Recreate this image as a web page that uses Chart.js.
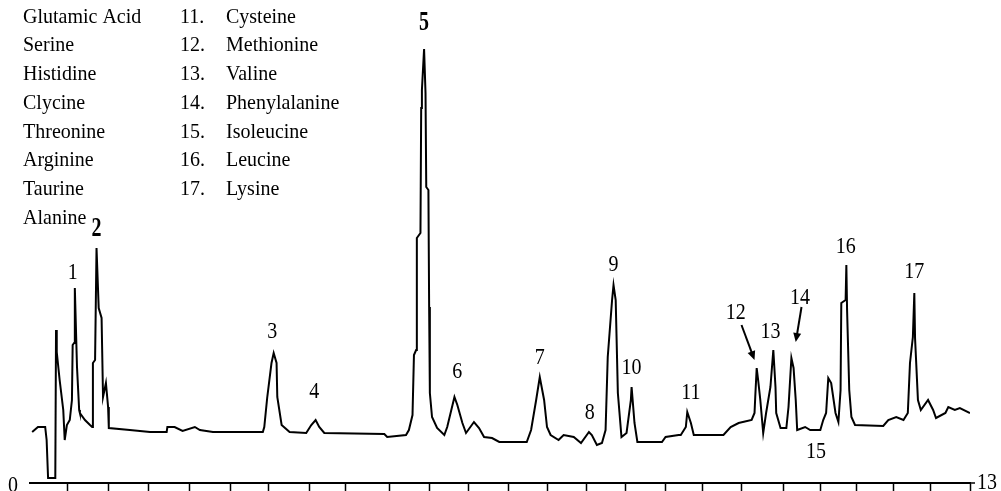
<!DOCTYPE html>
<html>
<head>
<meta charset="utf-8">
<script src="https://cdn.jsdelivr.net/npm/chart.js@4"></script>
<style>
  html, body { margin: 0; padding: 0; background: #fff; }
  #wrap { width: 1001px; height: 491px; }
</style>
</head>
<body>
<div id="wrap"><canvas id="chromChart"></canvas></div>
<script>
// retention time (min) and detector response
const times = [0.03, 0.11, 0.21, 0.23, 0.25, 0.35, 0.36, 0.37, 0.41, 0.46, 0.48, 0.51, 0.55, 0.58, 0.59, 0.61, 0.62,
  0.65, 0.68, 0.69, 0.76, 0.83, 0.86, 0.87, 0.90, 0.92, 0.95, 0.99, 1.01, 1.05, 1.08, 1.09, 1.38, 1.66, 1.89, 1.90,
  2.00, 2.11, 2.28, 2.35, 2.53, 3.22, 3.24, 3.28, 3.34, 3.37, 3.41, 3.42, 3.48, 3.59, 3.82, 3.89, 3.95, 4.00, 4.07,
  4.90, 4.94, 5.20, 5.24, 5.29, 5.31, 5.34, 5.35, 5.40, 5.41, 5.42, 5.45, 5.47, 5.48, 5.51, 5.52, 5.53, 5.56, 5.63,
  5.73, 5.77, 5.87, 5.91, 5.98, 6.03, 6.14, 6.21, 6.28, 6.39, 6.49, 6.87, 6.93, 7.00, 7.05, 7.11, 7.15, 7.20, 7.31,
  7.38, 7.52, 7.62, 7.73, 7.77, 7.84, 7.91, 7.96, 7.99, 8.05, 8.07, 8.10, 8.13, 8.18, 8.25, 8.31, 8.32, 8.36, 8.40,
  8.74, 8.79, 8.97, 9.00, 9.07, 9.09, 9.14, 9.18, 9.59, 9.69, 9.80, 9.98, 10.02, 10.03, 10.05, 10.07, 10.10, 10.14,
  10.18, 10.24, 10.28, 10.31, 10.32, 10.38, 10.46, 10.49, 10.53, 10.56, 10.59, 10.61, 10.72, 10.79, 10.93, 10.97,
  11.01, 11.04, 11.08, 11.14, 11.18, 11.21, 11.22, 11.28, 11.29, 11.30, 11.33, 11.36, 11.41, 11.80, 11.87, 11.98,
  12.08, 12.14, 12.17, 12.21, 12.23, 12.24, 12.28, 12.32, 12.42, 12.49, 12.53, 12.66, 12.70, 12.79, 12.86, 13.00];
const signal = [51, 56, 56, 43, 5, 5, 153, 131, 103, 73, 43, 58, 63, 83, 138, 140, 195,
  116, 73, 70, 63, 58, 56, 120, 123, 235, 175, 165, 86, 100, 76, 55, 53, 51, 51, 56,
  56, 52, 56, 53, 51, 51, 56, 85, 120, 130, 120, 86, 58, 51, 50, 58, 63, 56, 50,
  49, 46, 48, 53, 68, 128, 133, 245, 250, 375, 393, 434, 390, 296, 293, 176, 90, 66, 55,
  48, 56, 86, 78, 60, 50, 61, 55, 46, 45, 41, 41, 53, 83, 106, 83, 56, 48, 43,
  48, 46, 40, 51, 48, 38, 40, 53, 126, 183, 198, 183, 90, 46, 50, 83, 96, 60, 41,
  41, 46, 48, 48, 56, 71, 60, 48, 48, 56, 60, 63, 70, 86, 115, 103, 83, 50,
  70, 96, 133, 96, 70, 55, 55, 76, 125, 115, 83, 53, 56, 53, 53, 63,
  70, 105, 100, 70, 61, 93, 180, 183, 218, 173, 93, 66, 58, 57, 63, 66,
  63, 70, 120, 146, 190, 145, 83, 73, 83, 73, 65, 70, 76, 73, 75, 70];

// unlabeled tick marks on the time axis (min)
const tickMinutes = [0.52, 1.09, 1.64, 2.21, 2.77, 3.30, 3.86, 4.37, 4.97, 5.53, 6.06, 6.62,
  7.16, 7.70, 8.23, 8.79, 9.30, 9.84, 10.42, 10.93, 11.43, 11.94, 12.46, 13.00];
const axisLabels = ['0', '13'];

// peak numbers and where their labels sit (time, response)
const peakNumbers = ['1', '2', '3', '4', '5', '6', '7', '8', '9', '10', '11', '12', '13', '14', '15', '16', '17'];
const peakLabelTime = [0.59, 0.92, 3.35, 3.93, 5.45, 5.91, 7.05, 7.74, 8.07, 8.32, 9.14, 9.76, 10.24, 10.65, 10.87, 11.28, 12.23];
const peakLabelResp = [210, 254, 151, 91, 460, 111, 125, 70, 218, 115, 90, 170, 151, 185, 31, 236, 211];
const boldPeaks = ['2', '5'];

// arrows for peaks 12 and 14: [fromTime, fromResp, toTime, toResp]
const arrows = [[9.84, 158, 10.02, 123], [10.67, 176, 10.59, 141]];

// peak identification list
const namesLeft = ['Glutamic Acid', 'Serine', 'Histidine', 'Clycine', 'Threonine', 'Arginine', 'Taurine', 'Alanine'];
const numbersRight = ['11.', '12.', '13.', '14.', '15.', '16.', '17.'];
const namesRight = ['Cysteine', 'Methionine', 'Valine', 'Phenylalanine', 'Isoleucine', 'Leucine', 'Lysine'];

const serif = '"Liberation Serif", "Times New Roman", serif';

function stretchedText(ctx, str, x, y, size, bold, sy, align) {
    ctx.save();
    ctx.font = (bold ? 'bold ' : '') + size + 'px ' + serif;
    ctx.textAlign = align || 'center';
    ctx.textBaseline = 'middle';
    ctx.translate(x, y);
    ctx.scale(1, sy);
    ctx.fillText(str, 0, 0);
    ctx.restore();
}

const annotate = {
    id: 'annotate',
    afterDraw(chart) {
        const ctx = chart.ctx;
        const xs = chart.scales.x, ys = chart.scales.y;
        ctx.save();
        ctx.fillStyle = '#000';
        ctx.strokeStyle = '#000';

        // peak numbers
        peakNumbers.forEach((n, i) => {
            const px = xs.getPixelForValue(peakLabelTime[i]);
            const py = ys.getPixelForValue(peakLabelResp[i]);
            const bold = boldPeaks.includes(n);
            stretchedText(ctx, n, px, py, 20, bold, bold ? 1.35 : 1.12);
        });

        // arrows
        arrows.forEach(a => {
            const x1 = xs.getPixelForValue(a[0]), y1 = ys.getPixelForValue(a[1]);
            const x2 = xs.getPixelForValue(a[2]), y2 = ys.getPixelForValue(a[3]);
            const ang = Math.atan2(y2 - y1, x2 - x1);
            ctx.lineWidth = 2;
            ctx.beginPath();
            ctx.moveTo(x1, y1);
            ctx.lineTo(x2 - 5 * Math.cos(ang), y2 - 5 * Math.sin(ang));
            ctx.stroke();
            ctx.beginPath();
            ctx.moveTo(x2, y2);
            ctx.lineTo(x2 - 9 * Math.cos(ang) + 4 * Math.sin(ang), y2 - 9 * Math.sin(ang) - 4 * Math.cos(ang));
            ctx.lineTo(x2 - 9 * Math.cos(ang) - 4 * Math.sin(ang), y2 - 9 * Math.sin(ang) + 4 * Math.cos(ang));
            ctx.closePath();
            ctx.fill();
        });

        // axis end labels
        const yAxis = chart.chartArea.bottom;
        stretchedText(ctx, axisLabels[0], xs.getPixelForValue(0) - 17, yAxis + 3, 20, false, 1.12);
        stretchedText(ctx, axisLabels[1], xs.getPixelForValue(13) + 7, yAxis, 20, false, 1.2, 'left');
        // small stub past the last tick, as in the original
        ctx.lineWidth = 1.5;
        ctx.beginPath();
        ctx.moveTo(xs.getPixelForValue(13), yAxis);
        ctx.lineTo(xs.getPixelForValue(13) + 5, yAxis);
        ctx.stroke();

        // compound list
        namesLeft.forEach((s, i) => {
            stretchedText(ctx, s, 23, 17 + i * 28.7, 20, false, 1.1, 'left');
        });
        numbersRight.forEach((s, i) => {
            stretchedText(ctx, s, 180, 17 + i * 28.7, 20, false, 1.1, 'left');
            stretchedText(ctx, namesRight[i], 226, 17 + i * 28.7, 20, false, 1.1, 'left');
        });
        ctx.restore();
    }
};

const ctx = document.getElementById('chromChart').getContext('2d');
new Chart(ctx, {
    type: 'line',
    data: {
        datasets: [{
            data: times.map((t, i) => ({ x: t, y: signal[i] })),
            borderColor: '#000',
            borderWidth: 2,
            pointRadius: 0,
            tension: 0,
            fill: false
        }]
    },
    options: {
        responsive: true,
        maintainAspectRatio: false,
        animation: false,
        layout: { padding: { left: 30, right: 31, top: 20, bottom: 0 } },
        plugins: { legend: { display: false }, tooltip: { enabled: false } },
        scales: {
            x: {
                type: 'linear',
                min: 0,
                max: 13,
                afterBuildTicks: scale => { scale.ticks = tickMinutes.map(v => ({ value: v })); },
                ticks: { display: false },
                grid: { drawOnChartArea: false, drawTicks: true, tickLength: 8, tickColor: '#000', tickWidth: 1.5 },
                border: { display: true, color: '#000', width: 2 }
            },
            y: {
                min: 0,
                max: 463,
                display: false
            }
        }
    },
    plugins: [annotate]
});
</script>
</body>
</html>
